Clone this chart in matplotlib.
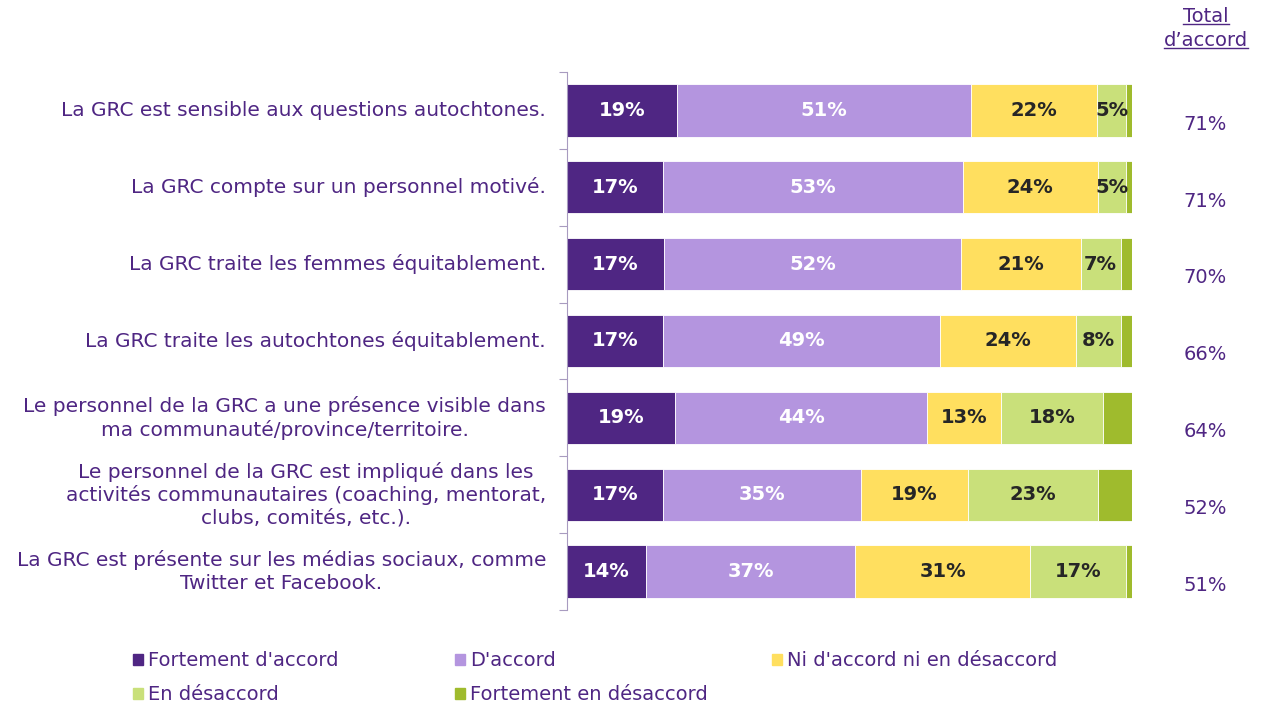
import numpy as np
import matplotlib.pyplot as plt
from matplotlib.lines import Line2D
from matplotlib.patches import Rectangle

# --- data ---
statements = [
    "La GRC est sensible aux questions autochtones.",
    "La GRC compte sur un personnel motivé.",
    "La GRC traite les femmes équitablement.",
    "La GRC traite les autochtones équitablement.",
    "Le personnel de la GRC a une présence visible dans\nma communauté/province/territoire.",
    "Le personnel de la GRC est impliqué dans les\nactivités communautaires (coaching, mentorat,\nclubs, comités, etc.).",
    "La GRC est présente sur les médias sociaux, comme\nTwitter et Facebook.",
]
series_names = ["Fortement d'accord", "D'accord", "Ni d'accord ni en désaccord",
                "En désaccord", "Fortement en désaccord"]
fortement_accord = [19, 17, 17, 17, 19, 17, 14]
accord = [51, 53, 52, 49, 44, 35, 37]
neutre = [22, 24, 21, 24, 13, 19, 31]
desaccord = [5, 5, 7, 8, 18, 23, 17]
fortement_desaccord = [1, 1, 2, 2, 5, 6, 1]
total_accord = [71, 71, 70, 66, 64, 52, 51]

colors = ["#4F2683", "#B495DF", "#FFDF5F", "#C9E07A", "#9FBB2D"]
label_colors = ["white", "white", "#262626", "#262626", None]
purple = "#4F2683"

plt.rcParams['font.family'] = ['DejaVu Sans']

fig = plt.figure(figsize=(12.61, 7.06), dpi=100)
ax = fig.add_axes([567 / 1261, 1 - 610 / 706, (1132 - 567) / 1261, (610 - 72) / 706])

data = np.array([fortement_accord, accord, neutre, desaccord, fortement_desaccord], dtype=float)
shares = data / data.sum(axis=0) * 100  # rows normalised to 100%
y = np.arange(len(statements))
left = np.zeros(len(statements))
for i, name in enumerate(series_names):
    ax.barh(y, shares[i], left=left, height=0.68, color=colors[i],
            edgecolor='white', linewidth=0.6, label=name)
    if label_colors[i]:
        for j in range(len(statements)):
            ax.text(left[j] + shares[i][j] / 2, y[j], f"{int(data[i][j])}%",
                    ha='center', va='center', fontsize=14, fontweight='bold',
                    color=label_colors[i])
    left += shares[i]

ax.set_xlim(0, 100)
ax.set_ylim(len(statements) - 0.5, -0.5)
ax.set_xticks([])
ax.set_yticks(np.arange(len(statements) + 1) - 0.5)
ax.set_yticklabels([])
ax.tick_params(axis='y', length=6, color='#A89BC0', direction='out')
for s in ['top', 'right', 'bottom']:
    ax.spines[s].set_visible(False)
ax.spines['left'].set_color('#A89BC0')

# category labels
for j, txt in enumerate(statements):
    ax.text(-3.7, y[j], txt, ha='right', va='center', fontsize=14.5,
            color=purple, multialignment='center', linespacing=1.22)

# total column
for j, t in enumerate(total_accord):
    ax.text(112.9, y[j] + 0.18, f"{t}%", ha='center', va='center',
            fontsize=14, color=purple)
hdr1 = fig.text(1206 / 1261, 1 - 16 / 706, "Total", ha='center', va='center',
                fontsize=14, color=purple)
hdr2 = fig.text(1206 / 1261, 1 - 40 / 706, "d\u2019accord", ha='center', va='center',
                fontsize=14, color=purple)

# legend, laid out like the original (3 columns, 2 rows)
leg_pos = [(133, 660), (455, 660), (772, 660), (133, 694), (455, 694)]
for k, (px, py) in enumerate(leg_pos):
    fig.add_artist(Rectangle((px / 1261, 1 - (py + 5) / 706), 10 / 1261, 11 / 706,
                             color=colors[k], transform=fig.transFigure))
    fig.text((px + 15) / 1261, 1 - py / 706, series_names[k], ha='left', va='center',
             fontsize=14, color=purple)

# underline header text
fig.canvas.draw()
r = fig.canvas.get_renderer()
for t in (hdr1, hdr2):
    bb = t.get_window_extent(r).transformed(fig.transFigure.inverted())
    fig.add_artist(Line2D([bb.x0, bb.x1], [bb.y0 + 0.002, bb.y0 + 0.002],
                          color=purple, linewidth=1, transform=fig.transFigure))

fig.savefig("out.png", dpi=100)
